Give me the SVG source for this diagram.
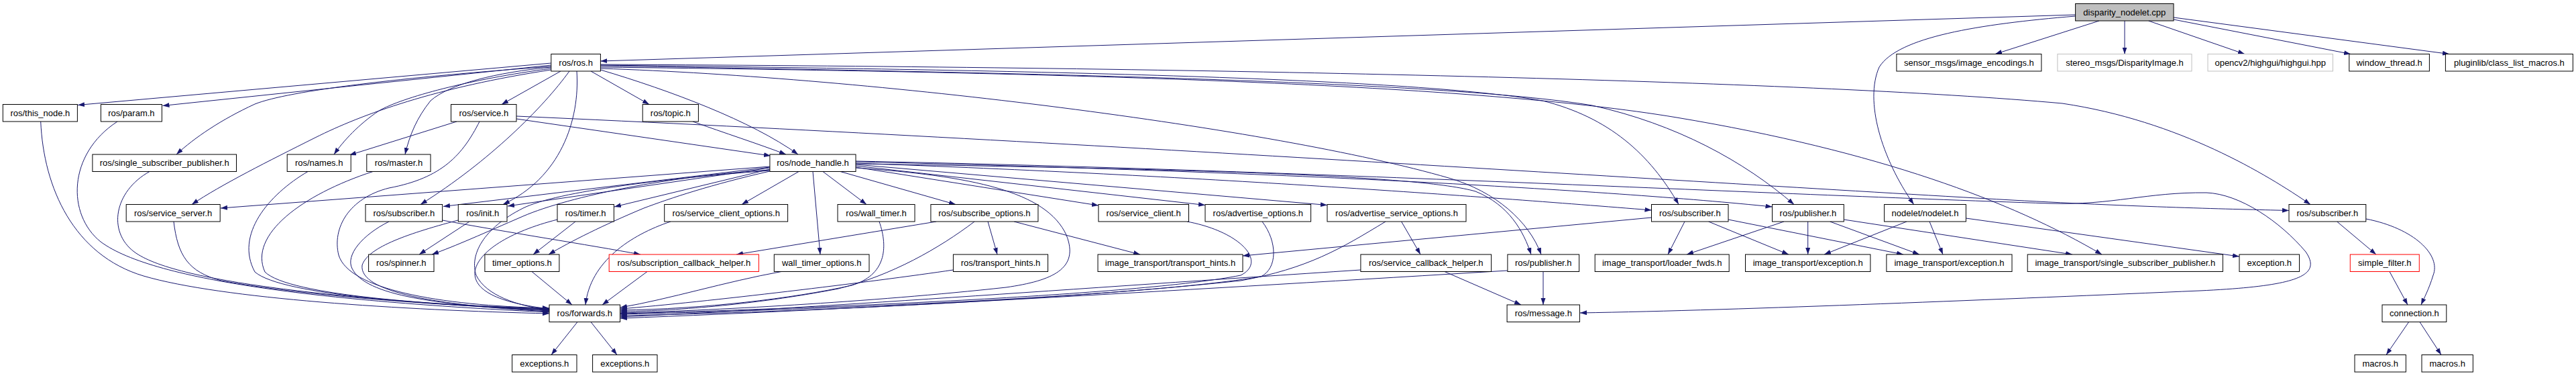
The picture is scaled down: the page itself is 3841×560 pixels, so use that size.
<svg xmlns="http://www.w3.org/2000/svg" width="3841" height="560" viewBox="0 0 3841 560">
<style>
.n rect{fill:#fff;stroke:#000;stroke-width:1}
.g rect{stroke:#bfbfbf}
.r rect{stroke:#f00}
.root rect{fill:#bfbfbf}
text{font-family:"Liberation Sans",Arial,Helvetica,sans-serif;font-size:13px;text-anchor:middle;fill:#000}
#edges path{fill:none;stroke:#191970;stroke-width:1;marker-end:url(#a)}
</style>
<defs>
<marker id="a" markerUnits="userSpaceOnUse" markerWidth="11" markerHeight="8" refX="10" refY="3.5" orient="auto"><path d="M0,0 L10,3.5 L0,7 Z" fill="#191970"/></marker>
</defs>
<rect width="3841" height="560" fill="#fff"/>
<g id="edges">
<path d="M3094.6,22 L895.4,91"/>
<path d="M3094.6,24 C2950,36 2830,55 2802,100 C2780,150 2805,235 2853.6,304.5"/>
<path d="M3130,31 L2975,80.5"/>
<path d="M3168,31 L3168,80.5"/>
<path d="M3203.6,31 L3347,80.5"/>
<path d="M3241,29 L3505,80.5"/>
<path d="M3241,26 L3652,80.5"/>
<path d="M821.8,94 L116,156.5"/>
<path d="M821.8,97 L242.5,157.5"/>
<path d="M821.8,99 C600,115 430,135 380,155 C330,178 290,205 263,230"/>
<path d="M821.8,102 C700,118 600,145 565,165 C535,185 512,210 498,230"/>
<path d="M821.8,104 C650,130 540,170 470,205 C400,240 330,275 286,304.5"/>
<path d="M681,181 L521,231"/>
<path d="M821.8,100 C740,108 670,125 642,150 C622,175 611,200 604,230"/>
<path d="M836,106 L748,155.5"/>
<path d="M881,106 L968,155.5"/>
<path d="M895.4,104 C1000,135 1120,180 1190,230"/>
<path d="M849,106 C810,160 730,240 627,304.5"/>
<path d="M860,106 C865,180 835,265 750,304.5"/>
<path d="M895.4,102 C1300,115 1900,190 2160,265 C2230,285 2280,330 2298,379"/>
<path d="M895.4,100 C1600,108 2200,125 2500,175 C2800,225 3000,300 3134,379"/>
<path d="M895.4,97 C1500,104 2100,115 2300,150 C2400,175 2460,230 2503,304.5"/>
<path d="M895.4,98 C1500,108 2150,120 2374,157 C2500,185 2600,240 2675,304.5"/>
<path d="M895.4,96 C1800,100 2700,120 3075,154 C3250,180 3380,260 3445,304.5"/>
<path d="M1033,181 C1080,198 1130,214 1172,230"/>
<path d="M770,177 L1149,232"/>
<path d="M770,173 C1600,210 2500,270 3000,298 C3200,309 3350,312 3413,313.5"/>
<path d="M715,181 C690,230 660,265 580,280 C520,295 495,340 505,380 C520,430 650,455 819,459"/>
<path d="M1276,249 L1637.9,306"/>
<path d="M1276,247 L1797,305.5"/>
<path d="M1276,245 L1979,305.5"/>
<path d="M1276,243 C1800,262 2200,292 2462.5,313"/>
<path d="M1276,241 C1900,255 2400,283 2642.5,308"/>
<path d="M1276,244 C1800,252 2120,262 2200,285 C2250,305 2272,345 2283,379"/>
<path d="M1276,240 C1900,252 2600,288 3057,303 C3150,306 3200,286 3290,287 C3340,289 3400,330 3438,375 C3462,410 3430,426 3280,433 C3000,445 2600,462 2356,466"/>
<path d="M1276,250 C1450,262 1560,285 1590,350 C1610,400 1570,418 1500,428 C1300,450 1050,463 925,466"/>
<path d="M1147.9,248 L329,310"/>
<path d="M1147.9,249 L661,307.5"/>
<path d="M1147.9,250 L757,307"/>
<path d="M1147.9,252 L916,308"/>
<path d="M1191,255.5 L1106,304.5"/>
<path d="M1212,255.5 L1223,379"/>
<path d="M1227,255.5 L1292,304.5"/>
<path d="M1253,255.5 L1425,304.5"/>
<path d="M1147.9,253 C1000,262 850,292 780,322 C720,348 680,366 644,379"/>
<path d="M1147.9,255 C1060,275 1000,295 960,310 C900,335 850,360 818,379"/>
<path d="M1147.9,254 C1000,265 830,285 780,310 C720,340 700,380 710,410 C725,440 770,455 819,462"/>
<path d="M60.7,181 C65,280 110,380 214,411 C330,445 600,462 819,467"/>
<path d="M175,181 C100,230 100,320 150,360 C230,420 500,450 819,465"/>
<path d="M223,255.5 C170,285 160,345 200,375 C260,420 500,445 819,463"/>
<path d="M259,330 C265,380 280,405 330,418 C450,440 650,455 819,461"/>
<path d="M459,255.5 C400,290 350,350 380,405 C420,440 650,455 819,460"/>
<path d="M556,255.5 C450,290 370,350 395,405 C430,440 650,455 819,459.5"/>
<path d="M580,330 C540,350 515,380 525,400 C545,440 650,455 819,462"/>
<path d="M683,328 C600,350 548,370 540,395 C535,435 650,455 819,464"/>
<path d="M659.6,328 C750,345 880,365 955,379"/>
<path d="M700,330 L625,379"/>
<path d="M858,330 L795,379"/>
<path d="M831,327 C760,345 712,375 708,405 C706,435 750,452 819,460"/>
<path d="M793,404.5 L853,454"/>
<path d="M1000,330 C940,350 880,390 873,454"/>
<path d="M965,404.5 L898,454"/>
<path d="M1165,404.5 C1080,420 1000,445 925,458"/>
<path d="M1311,330 C1325,370 1320,410 1270,425 C1180,445 1050,460 925,462"/>
<path d="M1453,330 C1400,370 1330,410 1250,430 C1120,455 1000,463 925,464"/>
<path d="M1396,330 L1098,379"/>
<path d="M1473,330 L1487,379"/>
<path d="M1512,330 L1700,379"/>
<path d="M1421.4,402 C1300,420 1050,450 925,460"/>
<path d="M1770,330 C1850,345 1890,390 1850,410 C1700,440 1200,460 925,467"/>
<path d="M1882,330 C1905,360 1905,400 1880,412 C1700,442 1200,462 925,468"/>
<path d="M2066,330 C2000,370 1950,400 1850,418 C1600,445 1200,465 925,470"/>
<path d="M2089.6,330 L2118,379"/>
<path d="M2029,402 C1600,430 1200,460 925,472"/>
<path d="M2154,404.5 L2268,454"/>
<path d="M2247.9,403 C1800,430 1300,460 925,474"/>
<path d="M2301,404.5 L2301,454"/>
<path d="M861,479.5 L822,528.5"/>
<path d="M881,479.5 L920,528.5"/>
<path d="M2512,330 L2487,379"/>
<path d="M2547.5,330 L2667,379"/>
<path d="M2577,327 L2838,379"/>
<path d="M2462.5,324 L1853,381"/>
<path d="M2660,330 L2515,379"/>
<path d="M2695.7,330 L2695.7,379"/>
<path d="M2728.6,330 L2862,379"/>
<path d="M2749.3,327 L3090,379"/>
<path d="M2843,330 L2720,379"/>
<path d="M2877,330 L2897,379"/>
<path d="M2931.4,325 L3339,382"/>
<path d="M3484.6,330 L3543,379"/>
<path d="M3527.8,326 C3600,340 3640,380 3628,410 C3622,430 3614,445 3610,454"/>
<path d="M3563,404.5 L3590,454"/>
<path d="M3591.7,479.5 L3558,528.5"/>
<path d="M3608,479.5 L3640,528.5"/>
</g>
<g id="n0" class="n root"><rect x="3094.6" y="5.5" width="146.4" height="25.5"/><text x="3167.8" y="22.7">disparity_nodelet.cpp</text></g>
<g id="n1" class="n"><rect x="821.8" y="80.5" width="73.6" height="25.5"/><text x="858.6" y="97.7">ros/ros.h</text></g>
<g id="n2" class="n"><rect x="2827.9" y="80.5" width="216" height="25.5"/><text x="2935.9" y="97.7">sensor_msgs/image_encodings.h</text></g>
<g id="n3" class="n g"><rect x="3067.9" y="80.5" width="200.1" height="25.5"/><text x="3168" y="97.7">stereo_msgs/DisparityImage.h</text></g>
<g id="n4" class="n g"><rect x="3292" y="80.5" width="186.5" height="25.5"/><text x="3385.2" y="97.7">opencv2/highgui/highgui.hpp</text></g>
<g id="n5" class="n"><rect x="3502.8" y="80.5" width="119.6" height="25.5"/><text x="3562.6" y="97.7">window_thread.h</text></g>
<g id="n6" class="n"><rect x="3646.4" y="80.5" width="190" height="25.5"/><text x="3741.4" y="97.7">pluginlib/class_list_macros.h</text></g>
<g id="n7" class="n"><rect x="4.3" y="155.5" width="111.1" height="25.5"/><text x="59.9" y="172.7">ros/this_node.h</text></g>
<g id="n8" class="n"><rect x="150.4" y="155.5" width="91" height="25.5"/><text x="195.9" y="172.7">ros/param.h</text></g>
<g id="n9" class="n"><rect x="672.5" y="155.5" width="97.5" height="25.5"/><text x="721.3" y="172.7">ros/service.h</text></g>
<g id="n10" class="n"><rect x="958.2" y="155.5" width="83.2" height="25.5"/><text x="999.8" y="172.7">ros/topic.h</text></g>
<g id="n11" class="n"><rect x="137.9" y="230" width="214.6" height="25.5"/><text x="245.2" y="247.2">ros/single_subscriber_publisher.h</text></g>
<g id="n12" class="n"><rect x="428.2" y="230" width="95" height="25.5"/><text x="475.7" y="247.2">ros/names.h</text></g>
<g id="n13" class="n"><rect x="546.8" y="230" width="95.2" height="25.5"/><text x="594.4" y="247.2">ros/master.h</text></g>
<g id="n14" class="n"><rect x="1147.9" y="230" width="128.1" height="25.5"/><text x="1212" y="247.2">ros/node_handle.h</text></g>
<g id="n15" class="n"><rect x="188.2" y="304.5" width="140" height="25.5"/><text x="258.2" y="321.7">ros/service_server.h</text></g>
<g id="n16" class="n"><rect x="545" y="304.5" width="114.6" height="25.5"/><text x="602.3" y="321.7">ros/subscriber.h</text></g>
<g id="n17" class="n"><rect x="683.3" y="304.5" width="72.7" height="25.5"/><text x="719.7" y="321.7">ros/init.h</text></g>
<g id="n18" class="n"><rect x="831" y="304.5" width="84.4" height="25.5"/><text x="873.2" y="321.7">ros/timer.h</text></g>
<g id="n19" class="n"><rect x="990.7" y="304.5" width="183.9" height="25.5"/><text x="1082.7" y="321.7">ros/service_client_options.h</text></g>
<g id="n20" class="n"><rect x="1249" y="304.5" width="115" height="25.5"/><text x="1306.5" y="321.7">ros/wall_timer.h</text></g>
<g id="n21" class="n"><rect x="1387.9" y="304.5" width="160" height="25.5"/><text x="1467.9" y="321.7">ros/subscribe_options.h</text></g>
<g id="n22" class="n"><rect x="1637.9" y="304.5" width="134.6" height="25.5"/><text x="1705.2" y="321.7">ros/service_client.h</text></g>
<g id="n23" class="n"><rect x="1797" y="304.5" width="157.6" height="25.5"/><text x="1875.8" y="321.7">ros/advertise_options.h</text></g>
<g id="n24" class="n"><rect x="1979" y="304.5" width="207" height="25.5"/><text x="2082.5" y="321.7">ros/advertise_service_options.h</text></g>
<g id="n25" class="n"><rect x="2462.5" y="304.5" width="114.5" height="25.5"/><text x="2519.8" y="321.7">ros/subscriber.h</text></g>
<g id="n26" class="n"><rect x="2642.5" y="304.5" width="106.8" height="25.5"/><text x="2695.9" y="321.7">ros/publisher.h</text></g>
<g id="n27" class="n"><rect x="2809.6" y="304.5" width="121.8" height="25.5"/><text x="2870.5" y="321.7">nodelet/nodelet.h</text></g>
<g id="n28" class="n"><rect x="3413" y="304.5" width="114.8" height="25.5"/><text x="3470.4" y="321.7">ros/subscriber.h</text></g>
<g id="n29" class="n"><rect x="549.6" y="379" width="97.4" height="25.5"/><text x="598.3" y="396.2">ros/spinner.h</text></g>
<g id="n30" class="n"><rect x="722.9" y="379" width="111" height="25.5"/><text x="778.4" y="396.2">timer_options.h</text></g>
<g id="n31" class="n r"><rect x="908.2" y="379" width="223.2" height="25.5"/><text x="1019.8" y="396.2">ros/subscription_callback_helper.h</text></g>
<g id="n32" class="n"><rect x="1154.3" y="379" width="141.7" height="25.5"/><text x="1225.2" y="396.2">wall_timer_options.h</text></g>
<g id="n33" class="n"><rect x="1421.4" y="379" width="141.1" height="25.5"/><text x="1492" y="396.2">ros/transport_hints.h</text></g>
<g id="n34" class="n"><rect x="1637" y="379" width="216" height="25.5"/><text x="1745" y="396.2">image_transport/transport_hints.h</text></g>
<g id="n35" class="n"><rect x="2028.9" y="379" width="194.7" height="25.5"/><text x="2126.3" y="396.2">ros/service_callback_helper.h</text></g>
<g id="n36" class="n"><rect x="2247.9" y="379" width="106.7" height="25.5"/><text x="2301.3" y="396.2">ros/publisher.h</text></g>
<g id="n37" class="n"><rect x="2378.2" y="379" width="200" height="25.5"/><text x="2478.2" y="396.2">image_transport/loader_fwds.h</text></g>
<g id="n38" class="n"><rect x="2602.5" y="379" width="186.4" height="25.5"/><text x="2695.7" y="396.2">image_transport/exception.h</text></g>
<g id="n39" class="n"><rect x="2812.9" y="379" width="187.1" height="25.5"/><text x="2906.5" y="396.2">image_transport/exception.h</text></g>
<g id="n40" class="n"><rect x="3023.2" y="379" width="291.2" height="25.5"/><text x="3168.8" y="396.2">image_transport/single_subscriber_publisher.h</text></g>
<g id="n41" class="n"><rect x="3339" y="379" width="89.5" height="25.5"/><text x="3383.8" y="396.2">exception.h</text></g>
<g id="n42" class="n r"><rect x="3504.3" y="379" width="103" height="25.5"/><text x="3555.8" y="396.2">simple_filter.h</text></g>
<g id="n43" class="n"><rect x="819" y="454" width="105.6" height="25.5"/><text x="871.8" y="471.2">ros/forwards.h</text></g>
<g id="n44" class="n"><rect x="2247.1" y="454" width="108.3" height="25.5"/><text x="2301.3" y="471.2">ros/message.h</text></g>
<g id="n45" class="n"><rect x="3552" y="454" width="95.8" height="25.5"/><text x="3599.9" y="471.2">connection.h</text></g>
<g id="n46" class="n"><rect x="763.6" y="528.5" width="96.4" height="25.5"/><text x="811.8" y="545.7">exceptions.h</text></g>
<g id="n47" class="n"><rect x="883.6" y="528.5" width="96.4" height="25.5"/><text x="931.8" y="545.7">exceptions.h</text></g>
<g id="n48" class="n"><rect x="3511" y="528.5" width="76.4" height="25.5"/><text x="3549.2" y="545.7">macros.h</text></g>
<g id="n49" class="n"><rect x="3611" y="528.5" width="76.4" height="25.5"/><text x="3649.2" y="545.7">macros.h</text></g>
</svg>
